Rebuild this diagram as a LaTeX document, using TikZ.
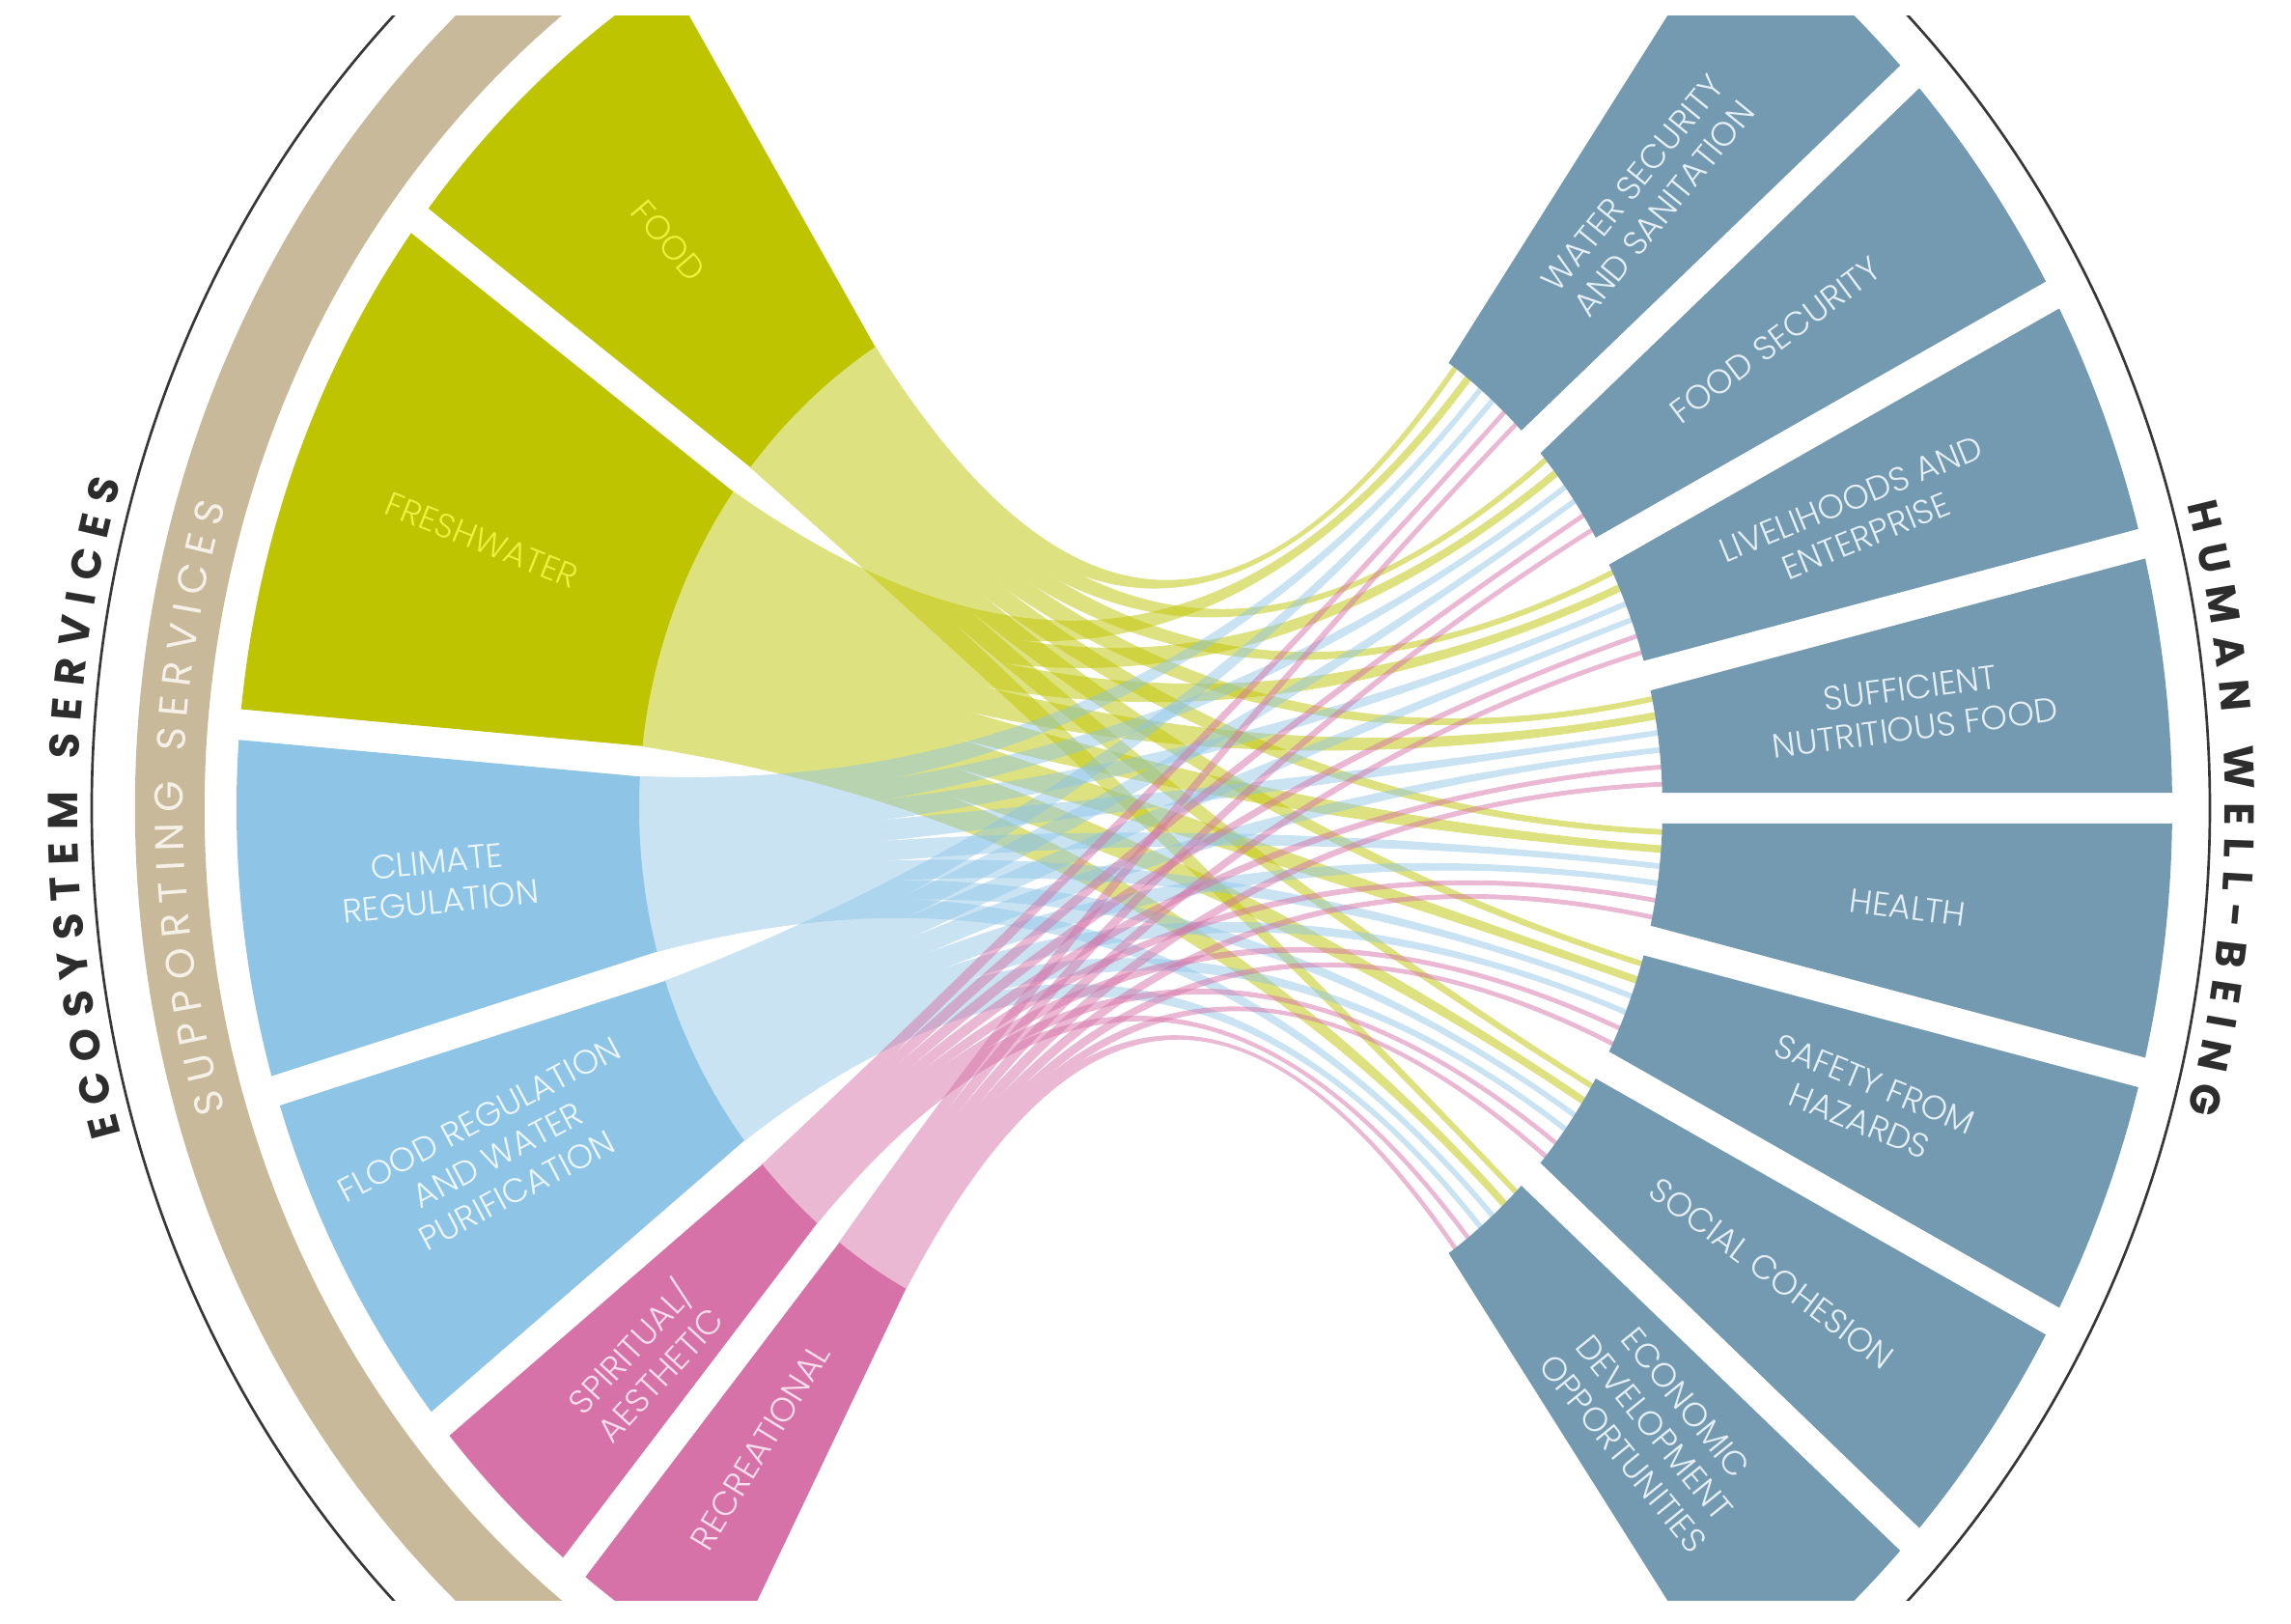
\documentclass[tikz,border=0pt]{standalone}
\usepackage{fontspec}
\setmainfont{Poppins}
\IfFontExistsTF{Poppins Light}{\newfontfamily\thinlabel{Poppins Light}}{\newfontfamily\thinlabel{Poppins}}
\usetikzlibrary{decorations.text}

\begin{document}
\begin{tikzpicture}[x=0.3pt,y=0.3pt,yscale=1.07,xscale=1,
  greenseg/.style={fill={rgb, 255:red, 190; green, 196; blue, 0 }},
  blueseg/.style={fill={rgb, 255:red, 142; green, 197; blue, 230 }},
  pinkseg/.style={fill={rgb, 255:red, 214; green, 114; blue, 168 }},
  wellseg/.style={fill={rgb, 255:red, 116; green, 154; blue, 177 }},
  greenband/.style={greenseg, draw={rgb, 255:red, 190; green, 196; blue, 0 }, line width=0.25pt},
  blueband/.style={blueseg, draw={rgb, 255:red, 142; green, 197; blue, 230 }, line width=0.25pt},
  pinkband/.style={pinkseg, draw={rgb, 255:red, 214; green, 114; blue, 168 }, line width=0.25pt},
  fan/.style={transparency group, opacity=#1},
  tanband/.style={fill={rgb, 255:red, 200; green, 185; blue, 155 }},
  rimline/.style={draw={rgb, 255:red, 55; green, 55; blue, 55 }, line width=0.8pt},
  seglabel/.style={inner sep=0.75pt, align=center, font=\thinlabel\fontsize{10.5}{12.5}\selectfont},
  greentext/.style={text={rgb, 255:red, 236; green, 240; blue, 62 }},
  bluetext/.style={text={rgb, 255:red, 236; green, 246; blue, 252 }},
  pinktext/.style={text={rgb, 255:red, 250; green, 222; blue, 238 }},
  welltext/.style={text={rgb, 255:red, 228; green, 238; blue, 245 }}
]
\useasboundingbox (-1192,-789.7) rectangle (1181,782.2);
\begin{scope}
\clip (-1192,-766.4) rectangle (1181,766.4);

%Shape: Outer Rim
\draw [rimline] (0,0) circle [radius=1097];
%Shape: Supporting Band
\fill [tanband] (120:980) arc[start angle=120, end angle=240, radius=980] -- (240:1052) arc[start angle=240, end angle=120, radius=1052] -- cycle ;

%Shape: Ribbons Food
\begin{scope}[fan=0.5]
\filldraw [greenband] (122.6:530) arc[start angle=122.6, end angle=125.0, radius=530] .. controls (127.4:177) and (52.75:177) .. (53.25:530) arc[start angle=53.25, end angle=53.75, radius=530] .. controls (54.25:177) and (120.2:177) .. cycle ;
\filldraw [greenband] (125.0:530) arc[start angle=125.0, end angle=127.3, radius=530] .. controls (129.6:177) and (38.75:177) .. (39.25:530) arc[start angle=39.25, end angle=39.75, radius=530] .. controls (40.25:177) and (122.7:177) .. cycle ;
\filldraw [greenband] (127.3:530) arc[start angle=127.3, end angle=129.7, radius=530] .. controls (132.1:177) and (24.75:177) .. (25.25:530) arc[start angle=25.25, end angle=25.75, radius=530] .. controls (26.25:177) and (124.9:177) .. cycle ;
\filldraw [greenband] (129.7:530) arc[start angle=129.7, end angle=132.1, radius=530] .. controls (134.5:177) and (10.75:177) .. (11.25:530) arc[start angle=11.25, end angle=11.75, radius=530] .. controls (12.25:177) and (127.3:177) .. cycle ;
\filldraw [greenband] (132.1:530) arc[start angle=132.1, end angle=134.4, radius=530] .. controls (136.7:177) and (-3.25:177) .. (-2.75:530) arc[start angle=-2.75, end angle=-2.25, radius=530] .. controls (-1.75:177) and (129.8:177) .. cycle ;
\filldraw [greenband] (134.4:530) arc[start angle=134.4, end angle=136.8, radius=530] .. controls (139.2:177) and (-17.25:177) .. (-16.75:530) arc[start angle=-16.75, end angle=-16.25, radius=530] .. controls (-15.75:177) and (132.0:177) .. cycle ;
\filldraw [greenband] (136.8:530) arc[start angle=136.8, end angle=139.1, radius=530] .. controls (141.4:177) and (-31.25:177) .. (-30.75:530) arc[start angle=-30.75, end angle=-30.25, radius=530] .. controls (-29.75:177) and (134.5:177) .. cycle ;
\filldraw [greenband] (139.1:530) arc[start angle=139.1, end angle=141.5, radius=530] .. controls (143.9:177) and (-45.25:177) .. (-44.75:530) arc[start angle=-44.75, end angle=-44.25, radius=530] .. controls (-43.75:177) and (136.7:177) .. cycle ;
\end{scope}

%Shape: Ribbons Freshwater
\begin{scope}[fan=0.5]
\filldraw [greenband] (144.7:530) arc[start angle=144.7, end angle=148.3, radius=530] .. controls (151.9:177) and (50.65:177) .. (51.35:530) arc[start angle=51.35, end angle=52.05, radius=530] .. controls (52.75:177) and (141.1:177) .. cycle ;
\filldraw [greenband] (148.3:530) arc[start angle=148.3, end angle=151.9, radius=530] .. controls (155.5:177) and (36.65:177) .. (37.35:530) arc[start angle=37.35, end angle=38.05, radius=530] .. controls (38.75:177) and (144.7:177) .. cycle ;
\filldraw [greenband] (151.9:530) arc[start angle=151.9, end angle=155.5, radius=530] .. controls (159.1:177) and (22.65:177) .. (23.35:530) arc[start angle=23.35, end angle=24.05, radius=530] .. controls (24.75:177) and (148.3:177) .. cycle ;
\filldraw [greenband] (155.5:530) arc[start angle=155.5, end angle=159.1, radius=530] .. controls (162.7:177) and (8.65:177) .. (9.35:530) arc[start angle=9.35, end angle=10.05, radius=530] .. controls (10.75:177) and (151.9:177) .. cycle ;
\filldraw [greenband] (159.1:530) arc[start angle=159.1, end angle=162.7, radius=530] .. controls (166.3:177) and (-5.35:177) .. (-4.65:530) arc[start angle=-4.65, end angle=-3.95, radius=530] .. controls (-3.25:177) and (155.5:177) .. cycle ;
\filldraw [greenband] (162.7:530) arc[start angle=162.7, end angle=166.3, radius=530] .. controls (169.9:177) and (-19.35:177) .. (-18.65:530) arc[start angle=-18.65, end angle=-17.95, radius=530] .. controls (-17.25:177) and (159.1:177) .. cycle ;
\filldraw [greenband] (166.3:530) arc[start angle=166.3, end angle=169.9, radius=530] .. controls (173.5:177) and (-33.35:177) .. (-32.65:530) arc[start angle=-32.65, end angle=-31.95, radius=530] .. controls (-31.25:177) and (162.7:177) .. cycle ;
\filldraw [greenband] (169.9:530) arc[start angle=169.9, end angle=173.5, radius=530] .. controls (177.1:177) and (-47.35:177) .. (-46.65:530) arc[start angle=-46.65, end angle=-45.95, radius=530] .. controls (-45.25:177) and (166.3:177) .. cycle ;
\end{scope}

%Shape: Ribbons Climate
\begin{scope}[fan=0.48]
\filldraw [blueband] (176.7:530) arc[start angle=176.7, end angle=179.0, radius=530] .. controls (181.3:177) and (49.15:177) .. (49.65:530) arc[start angle=49.65, end angle=50.15, radius=530] .. controls (50.65:177) and (174.4:177) .. cycle ;
\filldraw [blueband] (179.0:530) arc[start angle=179.0, end angle=181.3, radius=530] .. controls (183.6:177) and (35.15:177) .. (35.65:530) arc[start angle=35.65, end angle=36.15, radius=530] .. controls (36.65:177) and (176.7:177) .. cycle ;
\filldraw [blueband] (181.3:530) arc[start angle=181.3, end angle=183.6, radius=530] .. controls (185.9:177) and (21.15:177) .. (21.65:530) arc[start angle=21.65, end angle=22.15, radius=530] .. controls (22.65:177) and (179.0:177) .. cycle ;
\filldraw [blueband] (183.6:530) arc[start angle=183.6, end angle=186.0, radius=530] .. controls (188.4:177) and (7.15:177) .. (7.65:530) arc[start angle=7.65, end angle=8.15, radius=530] .. controls (8.65:177) and (181.2:177) .. cycle ;
\filldraw [blueband] (186.0:530) arc[start angle=186.0, end angle=188.3, radius=530] .. controls (190.6:177) and (-6.85:177) .. (-6.35:530) arc[start angle=-6.35, end angle=-5.85, radius=530] .. controls (-5.35:177) and (183.7:177) .. cycle ;
\filldraw [blueband] (188.3:530) arc[start angle=188.3, end angle=190.6, radius=530] .. controls (192.9:177) and (-20.85:177) .. (-20.35:530) arc[start angle=-20.35, end angle=-19.85, radius=530] .. controls (-19.35:177) and (186.0:177) .. cycle ;
\filldraw [blueband] (190.6:530) arc[start angle=190.6, end angle=192.9, radius=530] .. controls (195.2:177) and (-34.85:177) .. (-34.35:530) arc[start angle=-34.35, end angle=-33.85, radius=530] .. controls (-33.35:177) and (188.3:177) .. cycle ;
\filldraw [blueband] (192.9:530) arc[start angle=192.9, end angle=195.2, radius=530] .. controls (197.5:177) and (-48.85:177) .. (-48.35:530) arc[start angle=-48.35, end angle=-47.85, radius=530] .. controls (-47.35:177) and (190.6:177) .. cycle ;
\end{scope}

%Shape: Ribbons Flood
\begin{scope}[fan=0.48]
\filldraw [blueband] (198.4:530) arc[start angle=198.4, end angle=200.8, radius=530] .. controls (203.2:177) and (47.35:177) .. (47.85:530) arc[start angle=47.85, end angle=48.35, radius=530] .. controls (48.85:177) and (196.0:177) .. cycle ;
\filldraw [blueband] (200.8:530) arc[start angle=200.8, end angle=203.2, radius=530] .. controls (205.6:177) and (33.35:177) .. (33.85:530) arc[start angle=33.85, end angle=34.35, radius=530] .. controls (34.85:177) and (198.4:177) .. cycle ;
\filldraw [blueband] (203.2:530) arc[start angle=203.2, end angle=205.5, radius=530] .. controls (207.8:177) and (19.35:177) .. (19.85:530) arc[start angle=19.85, end angle=20.35, radius=530] .. controls (20.85:177) and (200.9:177) .. cycle ;
\filldraw [blueband] (205.5:530) arc[start angle=205.5, end angle=207.9, radius=530] .. controls (210.3:177) and (5.35:177) .. (5.85:530) arc[start angle=5.85, end angle=6.35, radius=530] .. controls (6.85:177) and (203.1:177) .. cycle ;
\filldraw [blueband] (207.9:530) arc[start angle=207.9, end angle=210.3, radius=530] .. controls (212.7:177) and (-8.65:177) .. (-8.15:530) arc[start angle=-8.15, end angle=-7.65, radius=530] .. controls (-7.15:177) and (205.5:177) .. cycle ;
\filldraw [blueband] (210.3:530) arc[start angle=210.3, end angle=212.6, radius=530] .. controls (214.9:177) and (-22.65:177) .. (-22.15:530) arc[start angle=-22.15, end angle=-21.65, radius=530] .. controls (-21.15:177) and (208.0:177) .. cycle ;
\filldraw [blueband] (212.6:530) arc[start angle=212.6, end angle=215.0, radius=530] .. controls (217.4:177) and (-36.65:177) .. (-36.15:530) arc[start angle=-36.15, end angle=-35.65, radius=530] .. controls (-35.15:177) and (210.2:177) .. cycle ;
\filldraw [blueband] (215.0:530) arc[start angle=215.0, end angle=217.4, radius=530] .. controls (219.8:177) and (-50.65:177) .. (-50.15:530) arc[start angle=-50.15, end angle=-49.65, radius=530] .. controls (-49.15:177) and (212.6:177) .. cycle ;
\end{scope}

%Shape: Ribbons Spiritual
\begin{scope}[fan=0.5]
\filldraw [pinkband] (220.6:530) arc[start angle=220.6, end angle=221.7, radius=530] .. controls (222.8:177) and (45.7:177) .. (46.1:530) arc[start angle=46.1, end angle=46.5, radius=530] .. controls (46.9:177) and (219.5:177) .. cycle ;
\filldraw [pinkband] (221.7:530) arc[start angle=221.7, end angle=222.8, radius=530] .. controls (223.9:177) and (31.7:177) .. (32.1:530) arc[start angle=32.1, end angle=32.5, radius=530] .. controls (32.9:177) and (220.6:177) .. cycle ;
\filldraw [pinkband] (222.8:530) arc[start angle=222.8, end angle=223.9, radius=530] .. controls (225.0:177) and (17.7:177) .. (18.1:530) arc[start angle=18.1, end angle=18.5, radius=530] .. controls (18.9:177) and (221.7:177) .. cycle ;
\filldraw [pinkband] (223.9:530) arc[start angle=223.9, end angle=225.0, radius=530] .. controls (226.1:177) and (3.7:177) .. (4.1:530) arc[start angle=4.1, end angle=4.5, radius=530] .. controls (4.9:177) and (222.8:177) .. cycle ;
\filldraw [pinkband] (225.0:530) arc[start angle=225.0, end angle=226.0, radius=530] .. controls (227.0:177) and (-10.3:177) .. (-9.9:530) arc[start angle=-9.9, end angle=-9.5, radius=530] .. controls (-9.1:177) and (224.0:177) .. cycle ;
\filldraw [pinkband] (226.0:530) arc[start angle=226.0, end angle=227.1, radius=530] .. controls (228.2:177) and (-24.3:177) .. (-23.9:530) arc[start angle=-23.9, end angle=-23.5, radius=530] .. controls (-23.1:177) and (224.9:177) .. cycle ;
\filldraw [pinkband] (227.1:530) arc[start angle=227.1, end angle=228.2, radius=530] .. controls (229.3:177) and (-38.3:177) .. (-37.9:530) arc[start angle=-37.9, end angle=-37.5, radius=530] .. controls (-37.1:177) and (226.0:177) .. cycle ;
\filldraw [pinkband] (228.2:530) arc[start angle=228.2, end angle=229.3, radius=530] .. controls (230.4:177) and (-52.3:177) .. (-51.9:530) arc[start angle=-51.9, end angle=-51.5, radius=530] .. controls (-51.1:177) and (227.1:177) .. cycle ;
\end{scope}

%Shape: Ribbons Recreational
\begin{scope}[fan=0.5]
\filldraw [pinkband] (232.5:530) arc[start angle=232.5, end angle=233.6, radius=530] .. controls (234.7:177) and (43.9:177) .. (44.3:530) arc[start angle=44.3, end angle=44.7, radius=530] .. controls (45.1:177) and (231.4:177) .. cycle ;
\filldraw [pinkband] (233.6:530) arc[start angle=233.6, end angle=234.7, radius=530] .. controls (235.8:177) and (29.9:177) .. (30.3:530) arc[start angle=30.3, end angle=30.7, radius=530] .. controls (31.1:177) and (232.5:177) .. cycle ;
\filldraw [pinkband] (234.7:530) arc[start angle=234.7, end angle=235.8, radius=530] .. controls (236.9:177) and (15.9:177) .. (16.3:530) arc[start angle=16.3, end angle=16.7, radius=530] .. controls (17.1:177) and (233.6:177) .. cycle ;
\filldraw [pinkband] (235.8:530) arc[start angle=235.8, end angle=237.0, radius=530] .. controls (238.2:177) and (1.9:177) .. (2.3:530) arc[start angle=2.3, end angle=2.7, radius=530] .. controls (3.1:177) and (234.6:177) .. cycle ;
\filldraw [pinkband] (237.0:530) arc[start angle=237.0, end angle=238.1, radius=530] .. controls (239.2:177) and (-12.1:177) .. (-11.7:530) arc[start angle=-11.7, end angle=-11.3, radius=530] .. controls (-10.9:177) and (235.9:177) .. cycle ;
\filldraw [pinkband] (238.1:530) arc[start angle=238.1, end angle=239.2, radius=530] .. controls (240.3:177) and (-26.1:177) .. (-25.7:530) arc[start angle=-25.7, end angle=-25.3, radius=530] .. controls (-24.9:177) and (237.0:177) .. cycle ;
\filldraw [pinkband] (239.2:530) arc[start angle=239.2, end angle=240.3, radius=530] .. controls (241.4:177) and (-40.1:177) .. (-39.7:530) arc[start angle=-39.7, end angle=-39.3, radius=530] .. controls (-38.9:177) and (238.1:177) .. cycle ;
\filldraw [pinkband] (240.3:530) arc[start angle=240.3, end angle=241.4, radius=530] .. controls (242.5:177) and (-54.1:177) .. (-53.7:530) arc[start angle=-53.7, end angle=-53.3, radius=530] .. controls (-52.9:177) and (239.2:177) .. cycle ;
\end{scope}

%Shape: Ecosystem Sectors
\fill [greenseg] (121.9:947) arc[start angle=121.9, end angle=142.2, radius=947] -- (141.5:530) arc[start angle=141.5, end angle=122.6, radius=530] -- cycle ;
\fill [greenseg] (144.0:947) arc[start angle=144.0, end angle=174.2, radius=947] -- (173.5:530) arc[start angle=173.5, end angle=144.7, radius=530] -- cycle ;
\fill [blueseg] (176.0:947) arc[start angle=176.0, end angle=195.9, radius=947] -- (195.2:530) arc[start angle=195.2, end angle=176.7, radius=530] -- cycle ;
\fill [blueseg] (197.7:947) arc[start angle=197.7, end angle=218.1, radius=947] -- (217.4:530) arc[start angle=217.4, end angle=198.4, radius=530] -- cycle ;
\fill [pinkseg] (219.9:947) arc[start angle=219.9, end angle=230.0, radius=947] -- (229.3:530) arc[start angle=229.3, end angle=220.6, radius=530] -- cycle ;
\fill [pinkseg] (231.8:947) arc[start angle=231.8, end angle=242.1, radius=947] -- (241.4:530) arc[start angle=241.4, end angle=232.5, radius=530] -- cycle ;

%Shape: Well-being Sectors
\fill [wellseg] (42.8:1058) arc[start angle=42.8, end angle=55.2, radius=1058] -- (54.4:530) arc[start angle=54.4, end angle=43.6, radius=530] -- cycle ;
\fill [wellseg] (28.8:1058) arc[start angle=28.8, end angle=41.2, radius=1058] -- (40.4:530) arc[start angle=40.4, end angle=29.6, radius=530] -- cycle ;
\fill [wellseg] (14.8:1058) arc[start angle=14.8, end angle=27.2, radius=1058] -- (26.4:530) arc[start angle=26.4, end angle=15.6, radius=530] -- cycle ;
\fill [wellseg] (0.8:1058) arc[start angle=0.8, end angle=13.2, radius=1058] -- (12.4:530) arc[start angle=12.4, end angle=1.6, radius=530] -- cycle ;
\fill [wellseg] (-13.2:1058) arc[start angle=-13.2, end angle=-0.8, radius=1058] -- (-1.6:530) arc[start angle=-1.6, end angle=-12.4, radius=530] -- cycle ;
\fill [wellseg] (-27.2:1058) arc[start angle=-27.2, end angle=-14.8, radius=1058] -- (-15.6:530) arc[start angle=-15.6, end angle=-26.4, radius=530] -- cycle ;
\fill [wellseg] (-41.2:1058) arc[start angle=-41.2, end angle=-28.8, radius=1058] -- (-29.6:530) arc[start angle=-29.6, end angle=-40.4, radius=530] -- cycle ;
\fill [wellseg] (-55.2:1058) arc[start angle=-55.2, end angle=-42.8, radius=1058] -- (-43.6:530) arc[start angle=-43.6, end angle=-54.4, radius=530] -- cycle ;

% Text Node
\path [decorate, decoration={text along path, text align={fit to path}, text={|\fontsize{13}{13}\selectfont\bfseries\color{rgb,255:red,45;green,45;blue,45}|ECOSYSTEM SERVICES}}] (196.5:1112) arc[start angle=196.5, end angle=163.5, radius=1112] ;
% Text Node
\path [decorate, decoration={text along path, text align={fit to path}, text={|\fontsize{13}{13}\selectfont\bfseries\color{rgb,255:red,45;green,45;blue,45}|HUMAN WELL-BEING}}] (15.3:1113) arc[start angle=15.3, end angle=-15.3, radius=1113] ;
% Text Node
\path [decorate, decoration={text along path, text align={fit to path}, text={|\fontsize{12.5}{12.5}\selectfont\color{rgb,255:red,246;green,241;blue,232}|SUPPORTING SERVICES}}] (197:1002) arc[start angle=197, end angle=163, radius=1002] ;

% Text Node
\draw (132.3:742) node [seglabel][greentext][rotate=-49.6] (food) {FOOD};
% Text Node
\draw (159.5:740) node [seglabel][greentext][rotate=-21.8] (freshwater) {FRESHWATER};
% Text Node
\draw (185.5:741) node [seglabel][bluetext][rotate=5.9] (climate) {CLIMATE\\REGULATION};
% Text Node
\draw (206.4:755) node [seglabel][bluetext][rotate=28] (flood) {FLOOD REGULATION\\AND WATER\\PURIFICATION};
% Text Node
\draw (225.4:749) node [seglabel][pinktext][rotate=47.3] (spiritual) {SPIRITUAL/\\AESTHETIC};
% Text Node
\draw (236.8:739) node [seglabel][pinktext][rotate=58.6] (recreational) {RECREATIONAL};

% Text Node
\draw (49:785) node [seglabel][welltext][rotate=50.9] (water) {WATER SECURITY\\AND SANITATION};
% Text Node
\draw (35:790) node [seglabel][welltext][rotate=36.8] (foodsecurity) {FOOD SECURITY};
% Text Node
\draw (21:785) node [seglabel][welltext][rotate=22.3] (livelihoods) {LIVELIHOODS AND\\ENTERPRISE};
% Text Node
\draw (7:795) node [seglabel][welltext][rotate=7.5] (nutrition) {SUFFICIENT\\NUTRITIOUS FOOD};
% Text Node
\draw (-7:790) node [seglabel][welltext][rotate=-7.5] (health) {HEALTH};
% Text Node
\draw (-21:795) node [seglabel][welltext][rotate=-22.3] (safety) {SAFETY FROM\\HAZARDS};
% Text Node
\draw (-35:785) node [seglabel][welltext][rotate=-36.8] (social) {SOCIAL COHESION};
% Text Node
\draw (-49:795) node [seglabel][welltext][rotate=-50.9] (economic) {ECONOMIC\\DEVELOPMENT\\OPPORTUNITIES};

\end{scope}
\end{tikzpicture}
\end{document}
